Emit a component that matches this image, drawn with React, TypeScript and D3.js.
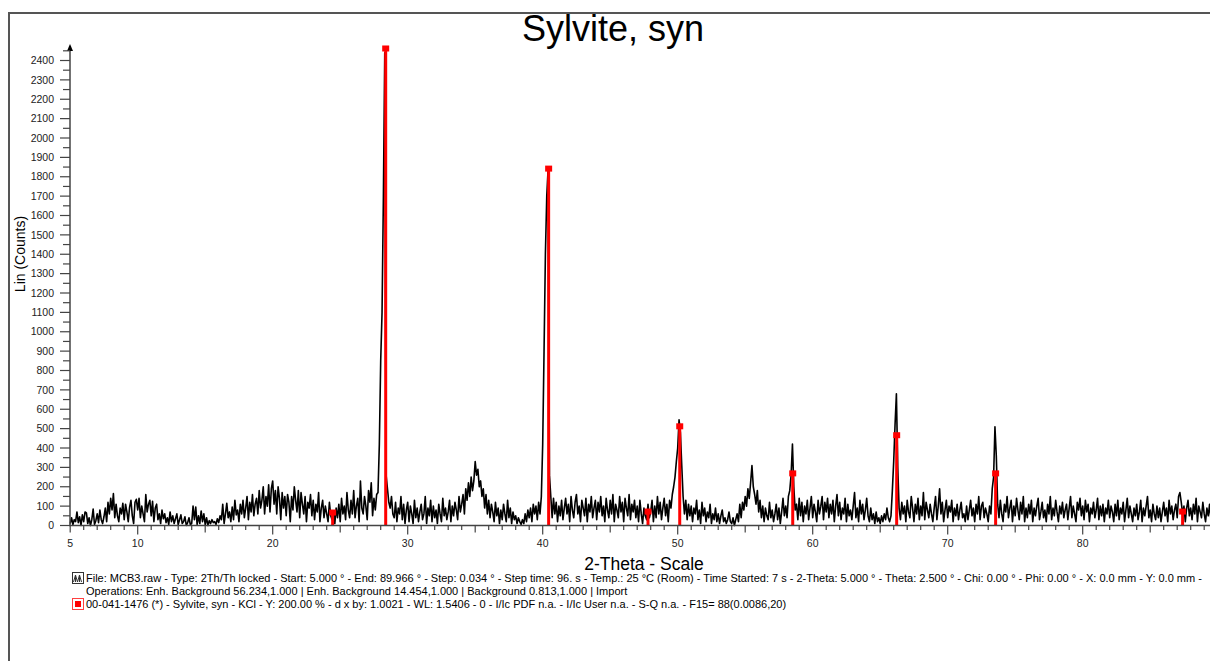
import * as d3 from "d3";

// Measured intensities (Lin counts), 0.1° steps, one array per decade of 2-Theta
const seg05 = [
  10, 40, 5, 30, 20, 70, 15, 45, 0, 55,
  20, 70, 65, 10, 40, 0, 30, 85, 5, 25,
  60, 15, 80, 30, 10, 45, 90, 20, 120, 60,
  140, 80, 165, 40, 110, 50, 20, 90, 60, 115,
  30, 110, 70, 20, 95, 130, 50, 10, 120, 135,
];
const seg10 = [
  80, 140, 40, 100, 60, 20, 160, 70, 110, 130,
  50, 125, 20, 90, 110, 30, 60, 10, 80, 35,
  60, 15, 40, 5, 70, 20, 50, 10, 35, 60,
  5, 30, 55, 10, 20, 45, 0, 15, 40, 5,
  10, 100, 30, 95, 5, 50, 10, 75, 20, 60,
  5, 40, 0, 25, 10, 30, 15, 20, 5, 35,
  15, 50, 30, 110, 10, 60, 115, 40, 70, 20,
  95, 30, 130, 55, 80, 20, 110, 60, 130, 40,
  90, 150, 30, 120, 70, 160, 50, 110, 140, 60,
  180, 90, 130, 200, 60, 150, 100, 210, 70, 190,
];
const seg20 = [
  230, 110, 180, 60, 200, 140, 30, 170, 90, 150,
  50, 160, 120, 20, 150, 80, 200, 130, 70, 180,
  40, 170, 110, 60, 150, 20, 120, 90, 160, 50,
  130, 30, 110, 70, 170, 20, 90, 130, 40, 100,
  60, 20, 120, 50, 30, 70, 10, 90, 40, 110,
  20, 140, 60, 100, 30, 170, 80, 40, 130, 60,
  180, 40, 100, 140, 20, 230, 90, 60, 150, 100,
  30, 180, 120, 220, 50, 140, 80, 160, 170, 420,
  850, 1100, 1700, 2440, 260, 190, 120, 90, 150, 60,
  40, 120, 20, 90, 60, 150, 30, 110, 10, 80,
];
const seg30 = [
  120, 20, 100, 60, 10, 130, 40, 90, 20, 70,
  110, 30, 60, 150, 10, 90, 50, 130, 20, 100,
  40, 80, 10, 110, 60, 20, 140, 50, 90, 30,
  70, 130, 20, 100, 50, 120, 80, 30, 150, 70,
  110, 160, 60, 190, 130, 220, 150, 250, 180, 230,
  330, 260, 290, 200, 230, 150, 190, 90, 160, 60,
  130, 40, 110, 70, 20, 120, 50, 90, 10, 80,
  30, 110, 60, 20, 130, 40, 90, 10, 70, 30,
  50, 10, 40, 20, 5, 30, 10, 60, 20, 80,
  40, 90, 20, 110, 60, 100, 30, 120, 60, 150,
];
const seg40 = [
  420, 900, 1400, 1700, 1840, 260, 150, 40, 140, 60,
  120, 20, 100, 50, 130, 30, 90, 140, 60, 110,
  20, 150, 80, 40, 120, 160, 60, 100, 20, 130,
  90, 50, 140, 20, 110, 70, 150, 40, 90, 130,
  30, 120, 70, 150, 50, 100, 20, 140, 80, 40,
  130, 60, 160, 20, 110, 80, 40, 150, 70, 120,
  20, 140, 90, 50, 160, 30, 110, 70, 130, 40,
  100, 20, 130, 60, 10, 90, 50, 30, 110, 40,
  70, 130, 20, 100, 40, 150, 60, 120, 30, 90,
  140, 50, 110, 20, 130, 90, 160, 200, 250, 330,
];
const seg50 = [
  400, 545, 480, 310, 150, 60, 130, 30, 110, 50,
  100, 20, 90, 60, 130, 30, 80, 10, 120, 50,
  90, 20, 70, 40, 110, 10, 60, 30, 90, 20,
  60, 10, 50, 80, 20, 40, 10, 30, 70, 20,
  10, 40, 0, 30, 60, 20, 110, 40, 120, 80,
  150, 100, 190, 140, 220, 310, 200, 160, 110, 180,
  70, 130, 40, 100, 20, 90, 50, 30, 120, 40,
  80, 20, 60, 110, 30, 90, 10, 70, 140, 50,
  100, 40, 150, 180, 260, 420, 200, 80, 110, 30,
  140, 50, 120, 20, 100, 60, 130, 30, 90, 150,
];
const seg60 = [
  40, 110, 70, 20, 130, 60, 100, 150, 30, 120,
  70, 140, 40, 110, 60, 130, 20, 100, 160, 50,
  120, 30, 90, 60, 140, 20, 110, 50, 80, 30,
  100, 170, 40, 90, 20, 130, 60, 110, 30, 80,
  140, 50, 20, 90, 30, 60, 10, 70, 20, 40,
  10, 50, 20, 60, 30, 90, 40, 20, 50, 180,
  330, 520, 680, 300, 90, 30, 120, 60, 100, 20,
  130, 70, 40, 150, 90, 20, 110, 60, 140, 30,
  100, 50, 170, 30, 120, 80, 40, 110, 60, 20,
  90, 150, 30, 100, 190, 60, 120, 20, 80, 130,
];
const seg70 = [
  40, 100, 70, 130, 20, 90, 50, 110, 30, 80,
  120, 40, 60, 20, 100, 30, 80, 130, 50, 90,
  20, 110, 60, 150, 30, 100, 120, 40, 90, 60,
  20, 100, 60, 190, 250, 510, 360, 110, 40, 130,
  60, 20, 110, 70, 150, 40, 90, 130, 20, 100,
  50, 140, 80, 30, 120, 60, 150, 20, 90, 40,
  110, 60, 130, 20, 90, 50, 100, 140, 30, 70,
  120, 40, 80, 20, 110, 60, 150, 30, 90, 50,
  130, 70, 20, 100, 60, 120, 40, 80, 110, 30,
  90, 150, 40, 100, 60, 20, 120, 80, 140, 50,
];
const seg80 = [
  100, 30, 130, 70, 110, 20, 90, 60, 120, 40,
  80, 140, 30, 100, 50, 110, 20, 90, 60, 130,
  40, 100, 70, 20, 110, 50, 130, 30, 90, 60,
  120, 20, 80, 140, 40, 100, 60, 20, 90, 50,
  110, 30, 70, 130, 20, 90, 50, 100, 150, 40,
  80, 20, 110, 60, 30, 100, 40, 90, 20, 70,
  120, 50, 90, 20, 130, 60, 100, 30, 80, 110,
  40, 150, 170, 120, 60, 100, 20, 90, 130, 50,
  90, 30, 110, 60, 140, 20, 100, 70, 40, 120,
  60, 20, 90, 50, 110, 30, 80, 40, 100, 60,
];

// Reference pattern 00-041-1476 Sylvite (stick positions / heights)
const refAngles = [24.44, 28.37, 40.44, 47.8, 50.15, 58.52, 66.22, 73.55, 87.4];
const refCounts = [67, 2462, 1842, 72, 512, 269, 466, 269, 72];

const yTickLabels = d3.range(0, 2401, 100);
const xTickLabels = [5, 10, 20, 30, 40, 50, 60, 70, 80];

const title = "Sylvite, syn";
const xTitle = "2-Theta - Scale";
const yTitle = "Lin (Counts)";
const caption1 =
  "File: MCB3.raw - Type: 2Th/Th locked - Start: 5.000 ° - End: 89.966 ° - Step: 0.034 ° - Step time: 96. s - Temp.: 25 °C (Room) - Time Started: 7 s - 2-Theta: 5.000 ° - Theta: 2.500 ° - Chi: 0.00 ° - Phi: 0.00 ° - X: 0.0 mm - Y: 0.0 mm -";
const caption2 =
  "Operations: Enh. Background 56.234,1.000 | Enh. Background 14.454,1.000 | Background 0.813,1.000 | Import";
const caption3 =
  "00-041-1476 (*) - Sylvite, syn - KCl - Y: 200.00 % - d x by: 1.0021 - WL: 1.5406 - 0 - I/Ic PDF n.a. - I/Ic User n.a. - S-Q n.a. - F15= 88(0.0086,20)";

const font = "'Liberation Sans', Arial, sans-serif";

export default function App() {
  const counts = [...seg05, ...seg10, ...seg20, ...seg30, ...seg40, ...seg50, ...seg60, ...seg70, ...seg80];
  const data = counts.map((c, i) => ({ t: 5 + i * 0.1, c }));

  const x = d3.scaleLinear().domain([5, 89.966]).range([70.2, 70.2 + 84.966 * 13.5]);
  const y = d3.scaleLinear().domain([0, 2400]).range([525.5, 60.5]);

  const line = d3.line<{ t: number; c: number }>()
    .x(d => x(d.t))
    .y(d => y(d.c));

  const minorX = d3.range(5, 90, 1);
  const minorY = d3.range(0, 2451, 50);
  const axisColor = "#444";

  return (
    <svg width={1210} height={661} style={{ position: "fixed", left: 0, top: 0, background: "#fff" }}
      fontFamily={font}>
      {/* outer frame */}
      <rect x={9} y={13} width={1400} height={800} fill="none" stroke="#555" strokeWidth={2} />

      <text x={613} y={41} textAnchor="middle" fontSize={36} fill="#000">{title}</text>

      {/* data */}
      <path d={line(data) || ""} fill="none" stroke="#000" strokeWidth={1.6} strokeLinejoin="round" />

      {/* reference sticks */}
      {refAngles.map((a, i) => (
        <g key={a}>
          <line x1={x(a)} x2={x(a)} y1={y(0)} y2={y(refCounts[i])} stroke="#ff0000" strokeWidth={3} />
          <rect x={x(a) - 3.5} y={y(refCounts[i]) - 3} width={7} height={6} fill="#ff0000" />
        </g>
      ))}

      {/* y axis */}
      <line x1={70} x2={70} y1={y(0)} y2={46} stroke={axisColor} strokeWidth={1.5} />
      <path d={`M70,44 L67,51 L73,51 Z`} fill="#000" />
      {minorY.map(v => (
        <line key={v} x1={v % 100 === 0 ? 60 : 63} x2={70} y1={y(v)} y2={y(v)} stroke={axisColor} strokeWidth={1.2} />
      ))}
      {yTickLabels.map(v => (
        <text key={v} x={54} y={y(v)} dy="0.35em" textAnchor="end" fontSize={10.5} fill="#222">{v}</text>
      ))}
      <text transform={`translate(25,254) rotate(-90)`} textAnchor="middle" fontSize={14} fill="#000">{yTitle}</text>

      {/* x axis */}
      <line x1={69} x2={1210} y1={y(0)} y2={y(0)} stroke={axisColor} strokeWidth={1.5} />
      {minorX.map(v => (
        <line key={v} x1={x(v)} x2={x(v)} y1={y(0)} y2={y(0) + (v % 10 === 0 ? 9 : v % 5 === 0 ? 7 : 4.5)}
          stroke={axisColor} strokeWidth={1.2} />
      ))}
      {xTickLabels.map(v => (
        <text key={v} x={x(v)} y={547} textAnchor="middle" fontSize={10.5} fill="#222">{v}</text>
      ))}
      <text x={644} y={570} textAnchor="middle" fontSize={17.5} fill="#000">{xTitle}</text>

      {/* captions */}
      <rect x={72.5} y={572.5} width={11} height={11} fill="#fff" stroke="#333" strokeWidth={1} />
      <path d="M73.5,582 L75.5,575 L77.5,582 L79.5,575 L81.5,582 M75.5,575 L75.5,582 M79.5,575 L79.5,582"
        fill="none" stroke="#333" strokeWidth={1} />
      <text x={86} y={582} fontSize={11} fill="#000">{caption1}</text>
      <text x={86} y={595} fontSize={11} fill="#000">{caption2}</text>
      <rect x={72.5} y={598.5} width={11} height={11} fill="#fff" stroke="#ff4040" strokeWidth={1} />
      <rect x={75} y={601} width={6} height={6} fill="#ff0000" />
      <text x={86} y={608} fontSize={11} fill="#000">{caption3}</text>
    </svg>
  );
}
